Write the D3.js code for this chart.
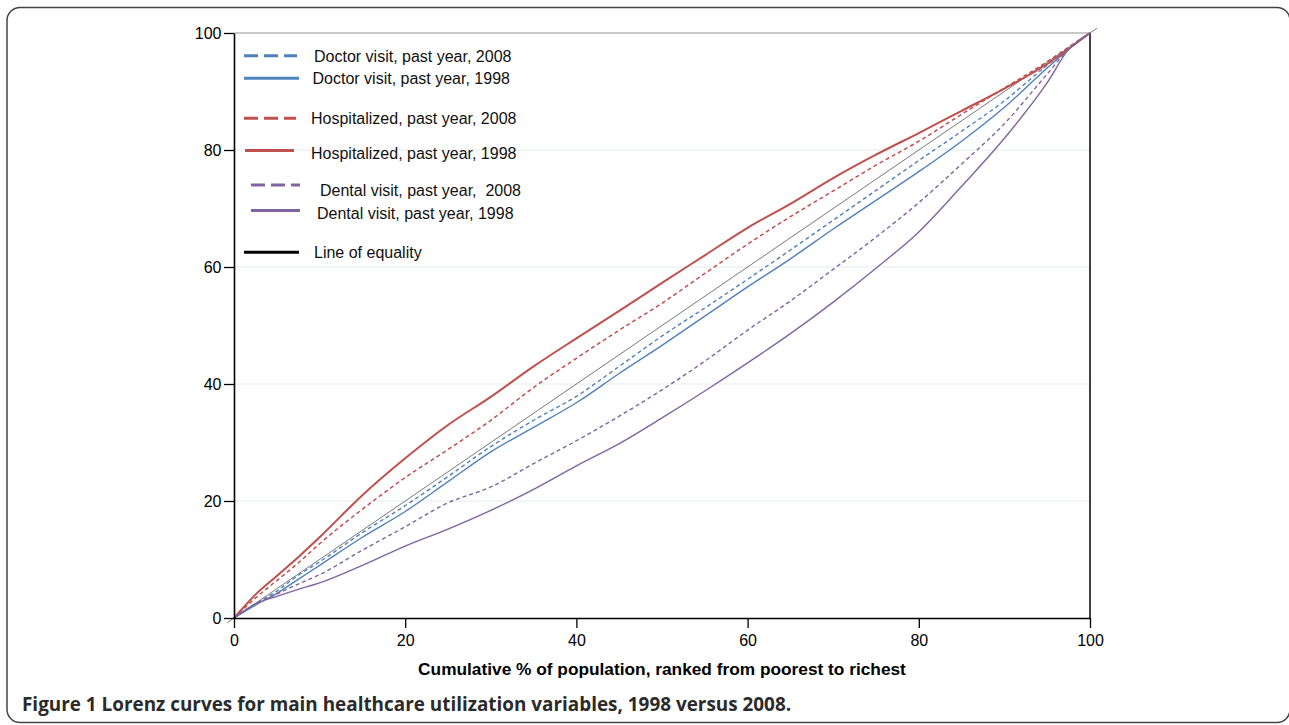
<!DOCTYPE html>
<html>
<head>
<meta charset="utf-8">
<script src="https://cdn.jsdelivr.net/npm/d3@7.9.0/dist/d3.min.js"></script>
<style>
  body { margin: 0; background: #fff; }
  svg { display: block; }
  .tick text { font-family: "Liberation Sans", Arial, sans-serif; font-size: 16px; fill: #000; }
  .legend text { font-family: "Liberation Sans", Arial, sans-serif; font-size: 16px; fill: #111; }
</style>
</head>
<body>
<div id="chart"></div>
<script>
// cumulative % of population (x) and cumulative % of utilization (y)
const popShare = [0, 2.5, 5, 7.5, 10, 15, 20, 25, 30, 35, 40, 45, 50, 55, 60, 65, 70, 75, 80, 85, 90, 95, 97.5, 100];

const doctor2008 = [0, 2.4, 4.6, 7.3, 9.6, 14.6, 19.2, 24.2, 29.3, 33.8, 37.9, 43, 48.2, 53, 57.9, 62.9, 68, 73.1, 78.2, 83.2, 88.4, 94.5, 97.3, 100];
const doctor1998 = [0, 2.2, 4.2, 6.6, 9.0, 13.8, 18.2, 23.3, 28.4, 32.6, 36.8, 41.8, 46.6, 51.6, 56.6, 61.4, 66.5, 71.4, 76.3, 81.5, 87.3, 94, 97.2, 100];
const hosp2008 = [0, 3.4, 6.4, 9.4, 12.7, 18.6, 24, 28.8, 33.8, 39.4, 44.4, 49.2, 53.8, 58.9, 63.9, 68.6, 73, 77.4, 81.5, 86.1, 90.6, 95.1, 97.6, 100];
const hosp1998 = [0, 4, 7.2, 10.4, 13.8, 21, 27.3, 33, 37.8, 43, 47.8, 52.5, 57.3, 62, 66.7, 70.8, 75.2, 79.2, 82.9, 86.7, 90.5, 94.7, 97.3, 100];
const dental2008 = [0, 2.4, 4.1, 5.8, 7.4, 11.6, 15.6, 19.7, 22.4, 26.4, 30.3, 34.5, 39, 43.9, 49.2, 54.2, 59.6, 65.1, 71, 77.6, 84.5, 93, 97.2, 100];
const dental1998 = [0, 2.4, 3.7, 4.9, 6.0, 9, 12.3, 15.2, 18.4, 22, 26, 29.8, 34.2, 38.8, 43.6, 48.6, 54, 59.8, 66, 73.8, 82, 91.5, 97.2, 100];

const equality = [-0.8, 100.8];

const seriesLabels = [
  'Doctor visit, past year, 2008',
  'Doctor visit, past year, 1998',
  'Hospitalized, past year, 2008',
  'Hospitalized, past year, 1998',
  'Dental visit, past year,  2008',
  'Dental visit, past year, 1998',
  'Line of equality'
];

const tickValues = [0, 20, 40, 60, 80, 100];
const xTitle = 'Cumulative % of population, ranked from poorest to richest';
const caption = 'Figure 1 Lorenz curves for main healthcare utilization variables, 1998 versus 2008.';

const blue = '#4f81bd', red = '#c0504d', purple = '#8064a2';

const series = [
  { values: doctor2008, color: blue, width: 1.4, dash: '4,3' },
  { values: doctor1998, color: blue, width: 1.4, dash: null },
  { values: hosp2008, color: red, width: 1.5, dash: '4,3' },
  { values: hosp1998, color: red, width: 2, dash: null },
  { values: dental2008, color: purple, width: 1.4, dash: '4,3' },
  { values: dental1998, color: purple, width: 1.4, dash: null }
];

const width = 1289, height = 725;
const margin = { top: 33, right: 199, bottom: 107, left: 234 };

const svg = d3.select('#chart').append('svg')
  .attr('width', width)
  .attr('height', height);

// figure frame
svg.append('rect')
  .attr('x', 7).attr('y', 7.5)
  .attr('width', 1283).attr('height', 715)
  .attr('rx', 13)
  .attr('fill', 'none')
  .attr('stroke', '#444')
  .attr('stroke-width', 1.5);

const x = d3.scaleLinear().domain([0, 100]).range([margin.left, width - margin.right]);
const y = d3.scaleLinear().domain([0, 100]).range([height - margin.bottom, margin.top]);

// gridlines
svg.append('g')
  .selectAll('line')
  .data(tickValues.filter(d => d > 0 && d < 100))
  .join('line')
  .attr('x1', x(0)).attr('x2', x(100))
  .attr('y1', d => y(d)).attr('y2', d => y(d))
  .attr('stroke', '#e2eef0')
  .attr('stroke-width', 1);

// top border (gray) and right border (black)
svg.append('line')
  .attr('x1', x(0)).attr('x2', x(100))
  .attr('y1', y(100)).attr('y2', y(100))
  .attr('stroke', '#b8b8b8').attr('stroke-width', 1.3);
svg.append('line')
  .attr('x1', x(100)).attr('x2', x(100))
  .attr('y1', y(0)).attr('y2', y(100))
  .attr('stroke', '#000').attr('stroke-width', 1.5);

// line of equality
svg.append('line')
  .attr('x1', x(equality[0])).attr('y1', y(equality[0]))
  .attr('x2', x(equality[1])).attr('y2', y(equality[1]))
  .attr('stroke', '#555')
  .attr('stroke-width', 0.8);

const line = d3.line()
  .x((d, i) => x(popShare[i]))
  .y(d => y(d))
  .curve(d3.curveMonotoneX);

svg.append('g')
  .selectAll('path')
  .data(series)
  .join('path')
  .attr('d', d => line(d.values))
  .attr('fill', 'none')
  .attr('stroke', d => d.color)
  .attr('stroke-width', d => d.width)
  .attr('stroke-dasharray', d => d.dash);

// axes
const yAxis = svg.append('g')
  .attr('transform', `translate(${x(0)},0)`)
  .call(d3.axisLeft(y).tickValues(tickValues).tickSize(10).tickSizeOuter(0).tickPadding(2.5));
const xAxis = svg.append('g')
  .attr('transform', `translate(0,${y(0)})`)
  .call(d3.axisBottom(x).tickValues(tickValues).tickSize(10).tickSizeOuter(0).tickPadding(6.3));

[yAxis, xAxis].forEach(g => {
  g.attr('font-family', null).attr('font-size', null);
  g.select('.domain').attr('stroke', '#000').attr('stroke-width', 1.6);
  g.selectAll('.tick line').attr('stroke', '#000').attr('stroke-width', 1.3);
});

// legend
const legendRows = [
  { y: 55.7, x1: 244, x2: 297, tx: 314, ty: 62.3 },
  { y: 78.3, x1: 244, x2: 299, tx: 312.5, ty: 83.5 },
  { y: 118.3, x1: 244, x2: 296, tx: 311, ty: 123.5 },
  { y: 150.5, x1: 245, x2: 294, tx: 311, ty: 158.5 },
  { y: 185, x1: 251, x2: 300, tx: 320, ty: 195.8 },
  { y: 210.5, x1: 251, x2: 300, tx: 317, ty: 218.5 },
  { y: 252.3, x1: 244, x2: 299, tx: 314, ty: 258 }
];
const legendStyle = series.map(s => ({ color: s.color, dash: s.dash ? '14,6' : null }))
  .concat([{ color: '#000', dash: null }]);

const legend = svg.append('g').attr('class', 'legend');
const rows = legend.selectAll('g')
  .data(seriesLabels)
  .join('g');
rows.append('line')
  .attr('x1', (d, i) => legendRows[i].x1)
  .attr('x2', (d, i) => legendRows[i].x2)
  .attr('y1', (d, i) => legendRows[i].y)
  .attr('y2', (d, i) => legendRows[i].y)
  .attr('stroke', (d, i) => legendStyle[i].color)
  .attr('stroke-width', 3)
  .attr('stroke-dasharray', (d, i) => legendStyle[i].dash);
rows.append('text')
  .attr('x', (d, i) => legendRows[i].tx)
  .attr('y', (d, i) => legendRows[i].ty)
  .attr('xml:space', 'preserve')
  .style('white-space', 'pre')
  .text(d => d);

// x axis title
svg.append('text')
  .attr('x', (x(0) + x(100)) / 2)
  .attr('y', 675)
  .attr('text-anchor', 'middle')
  .attr('font-family', '"Liberation Sans", Arial, sans-serif')
  .attr('font-size', 17.3)
  .attr('font-weight', 'bold')
  .attr('fill', '#000')
  .text(xTitle);

// figure caption
svg.append('text')
  .attr('x', 22)
  .attr('y', 711)
  .attr('font-family', '"Open Sans", sans-serif')
  .attr('font-size', 18.9)
  .attr('font-weight', 'bold')
  .attr('fill', '#2b2b2b')
  .text(caption);
</script>
</body>
</html>
